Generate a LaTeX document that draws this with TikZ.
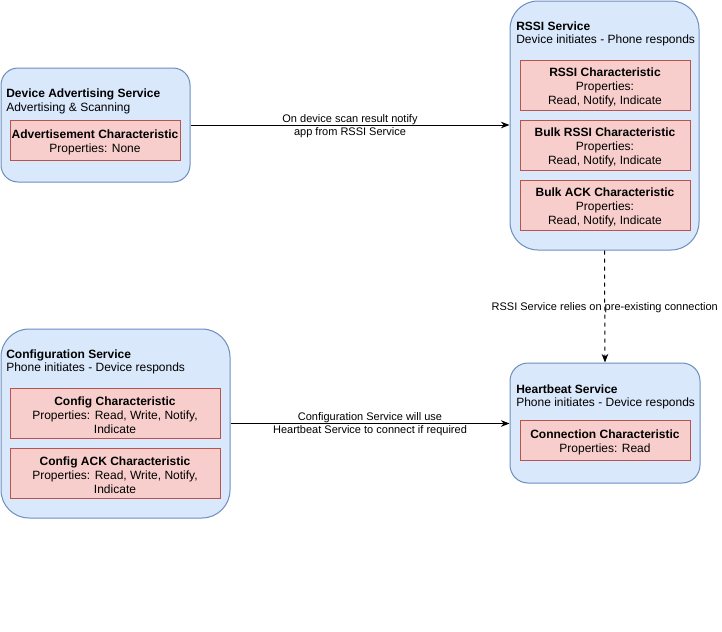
\documentclass[tikz,border=0pt]{standalone}
\usepackage{fontspec}
\setmainfont{Liberation Sans}
\usetikzlibrary{arrows.meta,fit}
\definecolor{svcfill}{HTML}{DAE8FC}
\definecolor{svcdraw}{HTML}{6C8EBF}
\definecolor{chrfill}{HTML}{F8CECC}
\definecolor{chrdraw}{HTML}{B85450}
\begin{document}
\begin{tikzpicture}[x=0.75pt,y=-0.75pt,
  svc/.style={draw=svcdraw, fill=svcfill, line width=0.75pt, inner sep=0pt, rounded corners=#1},
  chr/.style={draw=chrdraw, fill=chrfill, line width=0.75pt, inner sep=0pt},
  ttl/.style={inner sep=0pt, align=left, anchor=west, yshift=-1.5pt, font=\fontsize{9}{10.2}\selectfont},
  ctxt/.style={inner sep=0pt, align=center, yshift=-1.8pt, font=\fontsize{9}{10.5}\selectfont},
  elab/.style={inner sep=0pt, align=center, yshift=-0.75pt, font=\fontsize{8.25}{9.75}\selectfont},
  arr/.style={line width=0.75pt, -{Stealth[length=6.5pt,width=5pt]}}]
\useasboundingbox (0,0) rectangle (722,632);
\fill[white] (0,0) rectangle (722,632);

% Device Advertising Service
\node[svc=12.75pt, fit={(1,68)(190,182)}] (adv) {};
\node[ttl] (advT) at (6,99.5) {\textbf{Device Advertising Service}\\Advertising \& Scanning};
\node[chr, fit={(10,120)(180,160)}] (advC) {};
\node[ctxt] (advCT) at (advC.center) {\textbf{Advertisement Characteristic}\\Properties: None};

% RSSI Service
\node[svc=21pt, fit={(510,1)(699,250)}] (rssi) {};
\node[ttl] (rssiT) at (516,32) {\textbf{RSSI Service}\\Device initiates - Phone responds};
\node[chr, fit={(520,60)(690,110)}] (rc1) {};
\node[ctxt] (rc1T) at (rc1.center) {\textbf{RSSI Characteristic}\\Properties:\\Read, Notify, Indicate};
\node[chr, fit={(520,120)(690,170)}] (rc2) {};
\node[ctxt] (rc2T) at (rc2.center) {\textbf{Bulk RSSI Characteristic}\\Properties:\\Read, Notify, Indicate};
\node[chr, fit={(520,180)(690,230)}] (rc3) {};
\node[ctxt] (rc3T) at (rc3.center) {\textbf{Bulk ACK Characteristic}\\Properties:\\Read, Notify, Indicate};

% Configuration Service
\node[svc=21pt, fit={(1,329)(230,518)}] (cfg) {};
\node[ttl] (cfgT) at (6,360) {\textbf{Configuration Service}\\Phone initiates - Device responds};
\node[chr, fit={(10,388)(220,438)}] (cc1) {};
\node[ctxt] (cc1T) at (cc1.center) {\textbf{Config Characteristic}\\Properties: Read, Write, Notify,\\Indicate};
\node[chr, fit={(10,448)(220,498)}] (cc2) {};
\node[ctxt] (cc2T) at (cc2.center) {\textbf{Config ACK Characteristic}\\Properties: Read, Write, Notify,\\Indicate};

% Heartbeat Service
\node[svc=13.5pt, fit={(510,363)(700,483)}] (hb) {};
\node[ttl] (hbT) at (516,395) {\textbf{Heartbeat Service}\\Phone initiates - Device responds};
\node[chr, fit={(520,420)(690,460)}] (hc) {};
\node[ctxt] (hcT) at (hc.center) {\textbf{Connection Characteristic}\\Properties: Read};

% Connectors
\draw[arr] (adv.east) -- (adv.east -| rssi.west) coordinate[pos=0.5] (m1);
\node[elab] at (m1) {On device scan result notify\\app from RSSI Service};
\draw[arr, dashed] (rssi.south) -- (hb.north) coordinate[pos=0.5] (m2);
\node[elab] at (m2) {RSSI Service relies on pre-existing connection};
\draw[arr] (cfg.east) -- (cfg.east -| hb.west) coordinate[pos=0.5] (m3);
\node[elab] at (m3) {Configuration Service will use\\Heartbeat Service to connect if required};
\end{tikzpicture}
\end{document}
